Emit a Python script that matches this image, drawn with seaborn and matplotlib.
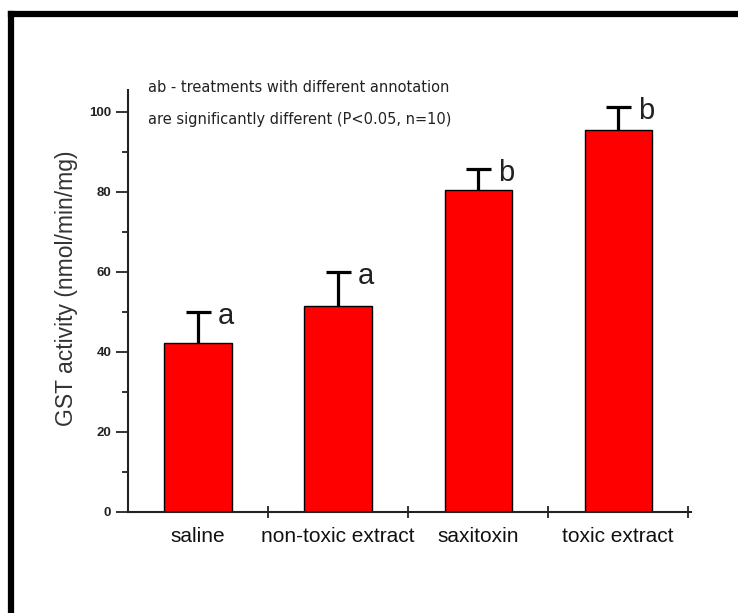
import numpy as np
import pandas as pd
import matplotlib
matplotlib.use('Agg')
import matplotlib.pyplot as plt
from matplotlib.lines import Line2D
import seaborn as sns

treatments = ['saline', 'non-toxic extract', 'saxitoxin', 'toxic extract']
gst_mean = [42.3, 51.5, 80.5, 95.5]
gst_err = [7.7, 8.5, 5.2, 5.7]
letters = ['a', 'a', 'b', 'b']
note_lines = ['ab - treatments with different annotation',
              'are significantly different (P<0.05, n=10)']

sns.set_theme(style='ticks')
plt.rcParams['font.family'] = ['Liberation Sans', 'DejaVu Sans']

df = pd.DataFrame({'treatment': treatments, 'gst': gst_mean})

fig = plt.figure(figsize=(7.38, 6.13), dpi=100)
ax = fig.add_axes([128 / 738, 1 - 512 / 613, (691 - 128) / 738, (512 - 90) / 613])

sns.barplot(data=df, x='treatment', y='gst', color='#ff0000', saturation=1,
            width=0.48, edgecolor='black', linewidth=1, errorbar=None, ax=ax,
            zorder=2)

# upper error bars only
xpos = np.arange(len(treatments))
eb = ax.errorbar(xpos, gst_mean, yerr=[np.zeros(len(gst_err)), gst_err], fmt='none',
                 ecolor='black', elinewidth=2.3, capsize=9, capthick=2.3, zorder=3)
for cap in eb[1]:
    if np.allclose(cap.get_ydata(), gst_mean):
        cap.set_visible(False)

for i, (m, e, l) in enumerate(zip(gst_mean, gst_err, letters)):
    ax.text(i + 0.14, m + e - 1.0, l, fontsize=21, color='#222222',
            ha='left', va='center')

ax.set_xlim(-0.5, 3.52)
ax.set_ylim(0, 105.5)
ax.set_yticks([0, 20, 40, 60, 80, 100])
ax.set_yticks(np.arange(10, 101, 20), minor=True)
ax.set_xticks([0.5, 1.5, 2.5, 3.5], minor=True)
ax.tick_params(axis='x', which='major', length=0, pad=11, labelsize=15,
               labelcolor='#111111')
ax.tick_params(axis='x', which='minor', direction='inout', length=9, width=1.3,
               color='#222222')
ax.tick_params(axis='y', which='major', direction='out', length=9, width=1.3,
               pad=3, color='#222222')
ax.tick_params(axis='y', which='minor', direction='out', length=4.5, width=1.3,
               color='#222222')
for t in ax.get_yticklabels():
    t.set_fontsize(9.5)
    t.set_fontweight('bold')
    t.set_color('#222222')

ax.set_xlabel('')
ax.set_ylabel('GST activity (nmol/min/mg)', fontsize=16.5, color='#333333')
ax.yaxis.set_label_coords(-0.088, 0.53)
sns.despine(ax=ax)
for s in ['left', 'bottom']:
    ax.spines[s].set_linewidth(1.5)
    ax.spines[s].set_color('#222222')

ax.text(0.0355, 1.005, note_lines[0], transform=ax.transAxes, fontsize=10.5,
        family='DejaVu Sans', color='#222222', va='center', ha='left')
ax.text(0.0355, 0.931, note_lines[1], transform=ax.transAxes, fontsize=10.5,
        family='DejaVu Sans', color='#222222', va='center', ha='left')

# thick frame on the left and top edges
fig.add_artist(Line2D([11 / 738, 11 / 738], [0, 1 - 14 / 613], color='black',
                      lw=4.5, transform=fig.transFigure, solid_capstyle='projecting'))
fig.add_artist(Line2D([11 / 738, 1], [1 - 14 / 613, 1 - 14 / 613], color='black',
                      lw=4.5, transform=fig.transFigure, solid_capstyle='projecting'))

fig.savefig('out.png', dpi=100, facecolor='white')
